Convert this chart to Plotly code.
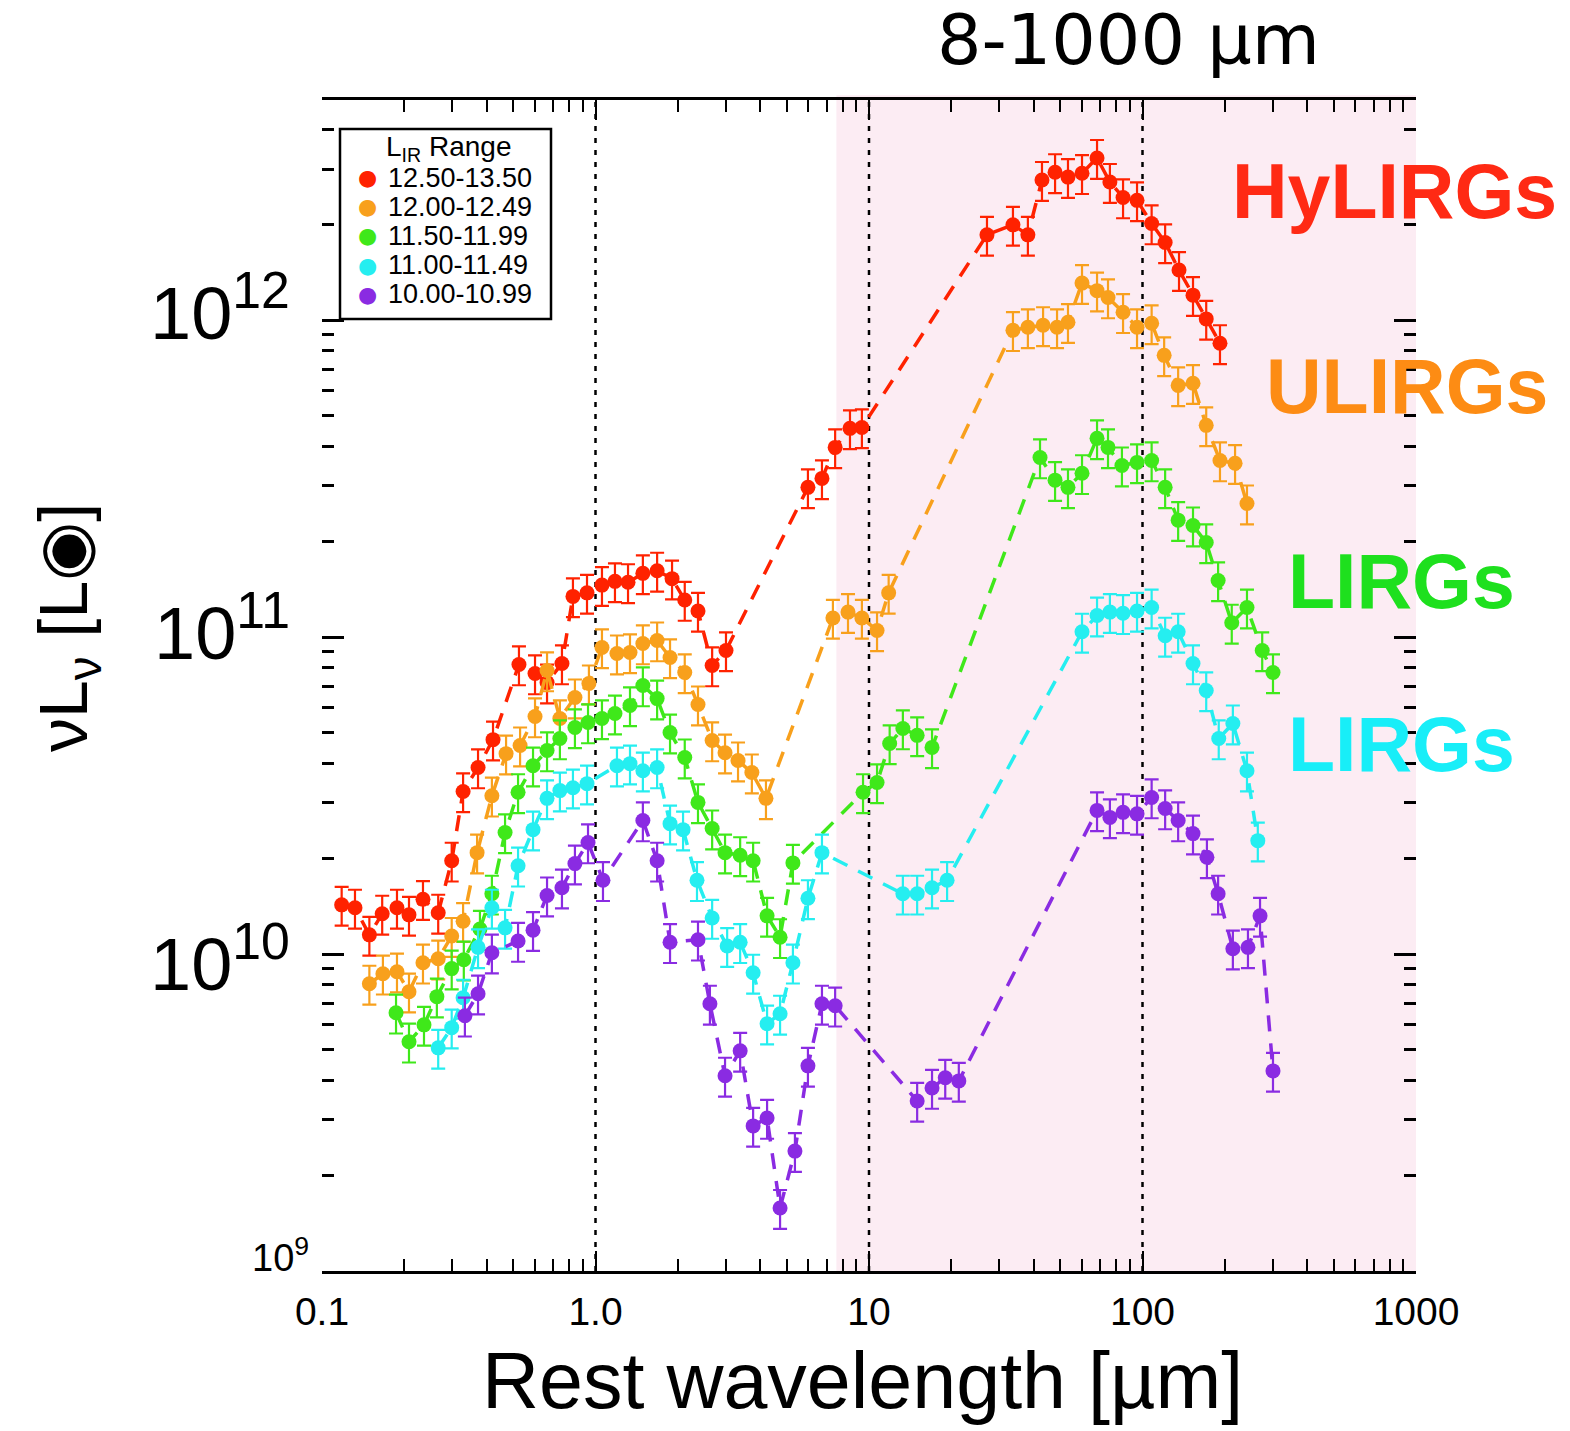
import math
import plotly.graph_objects as go

# ---------------- data ----------------
legend_title = "L<sub>IR</sub> Range"
legend_labels = ["12.50-13.50", "12.00-12.49", "11.50-11.99", "11.00-11.49", "10.00-10.99"]
class_labels = ["HyLIRGs", "ULIRGs", "LIRGs", "LIRGs"]

# rest wavelength [um] and nuL_nu [Lsun]
hylirg_wave = [0.118, 0.132, 0.149, 0.166, 0.188, 0.208, 0.234, 0.266,
               0.298, 0.328, 0.372, 0.422, 0.525, 0.601, 0.665, 0.754,
               0.827, 0.931, 1.056, 1.178, 1.315, 1.49, 1.68, 1.905,
               2.12, 2.37, 2.67, 3.00,
               5.98, 6.73, 7.52, 8.52, 9.42,
               27.0, 33.6, 38.1, 42.9, 47.9, 53.4, 60.1, 68.2, 76.0, 84.9, 95.5,
               108, 121, 136, 153, 171, 192]
hylirg_lum = [1.43e10, 1.40e10, 1.15e10, 1.34e10, 1.40e10, 1.33e10, 1.49e10, 1.35e10,
              1.97e10, 3.26e10, 3.88e10, 4.75e10, 8.20e10, 7.68e10, 7.19e10, 8.26e10,
              1.345e11, 1.38e11, 1.46e11, 1.50e11, 1.49e11, 1.59e11, 1.62e11, 1.53e11,
              1.31e11, 1.21e11, 8.14e10, 9.08e10,
              2.97e11, 3.17e11, 3.97e11, 4.56e11, 4.59e11,
              1.86e12, 2.00e12, 1.86e12, 2.77e12, 2.93e12, 2.83e12, 2.91e12, 3.25e12, 2.73e12, 2.44e12, 2.39e12,
              2.02e12, 1.76e12, 1.44e12, 1.20e12, 1.01e12, 8.46e11]

ulirg_wave = [0.149, 0.167, 0.188, 0.208, 0.234, 0.266, 0.298, 0.328,
              0.369, 0.418, 0.471, 0.530, 0.601, 0.665, 0.741, 0.841, 0.946,
              1.056, 1.198, 1.337, 1.49, 1.68, 1.873, 2.12, 2.37, 2.67, 2.976, 3.32, 3.73, 4.20,
              7.38, 8.38, 9.42, 10.7, 11.8,
              33.6, 38.1, 43.3, 48.7, 53.4, 60.1, 68.2, 74.8, 84.9, 95.5, 108,
              120, 135, 153, 171, 192, 218, 241]
ulirg_lum = [8.06e9, 8.67e9, 8.80e9, 7.61e9, 9.39e9, 9.67e9, 1.14e10, 1.27e10,
             2.09e10, 3.16e10, 4.29e10, 4.55e10, 5.62e10, 7.85e10, 5.54e10, 6.45e10, 7.14e10,
             9.28e10, 8.88e10, 8.95e10, 9.55e10, 9.76e10, 8.63e10, 7.74e10, 6.13e10, 4.72e10, 4.32e10, 4.08e10, 3.74e10, 3.10e10,
             1.15e11, 1.20e11, 1.15e11, 1.05e11, 1.38e11,
             9.30e11, 9.50e11, 9.64e11, 9.50e11, 9.86e11, 1.31e12, 1.24e12, 1.18e12, 1.06e12, 9.50e11, 9.78e11,
             7.75e11, 6.23e11, 6.33e11, 4.66e11, 3.61e11, 3.54e11, 2.64e11]

lirg_hi_wave = [0.1865, 0.208, 0.236, 0.263, 0.298, 0.330, 0.378, 0.418, 0.467, 0.521,
                0.591, 0.665, 0.741, 0.841, 0.939, 1.056, 1.178, 1.337, 1.49, 1.68,
                1.873, 2.12, 2.37, 2.67, 2.976, 3.38, 3.77, 4.24, 4.73, 5.27,
                9.51, 10.7, 11.9, 13.3, 15.0, 17.0,
                42.2, 47.9, 53.4, 60.1, 68.2, 74.8, 84.1, 95.5, 108, 121, 135, 153, 171, 189, 212, 241, 274, 300]
lirg_hi_lum = [6.53e9, 5.29e9, 5.98e9, 7.34e9, 9.00e9, 9.60e9, 1.20e10, 1.55e10, 2.42e10, 3.24e10,
               3.93e10, 4.39e10, 4.79e10, 5.19e10, 5.38e10, 5.54e10, 5.74e10, 6.09e10, 7.04e10, 6.40e10,
               5.00e10, 4.17e10, 3.01e10, 2.49e10, 2.09e10, 2.05e10, 1.97e10, 1.32e10, 1.13e10, 1.94e10,
               3.24e10, 3.48e10, 4.62e10, 5.15e10, 4.90e10, 4.49e10,
               3.69e11, 3.13e11, 2.97e11, 3.29e11, 4.24e11, 3.97e11, 3.48e11, 3.56e11, 3.61e11, 2.97e11,
               2.34e11, 2.25e11, 1.99e11, 1.51e11, 1.11e11, 1.24e11, 9.08e10, 7.74e10]

lirg_lo_wave = [0.266, 0.298, 0.328, 0.372, 0.418, 0.467, 0.521, 0.591, 0.665, 0.741, 0.827, 0.931,
                1.198, 1.337, 1.49, 1.68, 1.873, 2.09, 2.35, 2.67, 3.03, 3.38, 3.77, 4.24, 4.73, 5.27, 5.98, 6.73,
                13.3, 15.0, 17.0, 19.3,
                60.1, 68.2, 76.0, 84.9, 95.5, 108, 121, 135, 153, 171, 190, 214, 241, 264]
lirg_lo_lum = [5.06e9, 5.86e9, 7.28e9, 1.05e10, 1.40e10, 1.21e10, 1.90e10, 2.47e10, 3.10e10, 3.28e10, 3.35e10, 3.45e10,
               3.93e10, 3.99e10, 3.79e10, 3.88e10, 2.58e10, 2.47e10, 1.71e10, 1.30e10, 1.06e10, 1.09e10, 8.73e9,
               6.03e9, 6.48e9, 9.39e9, 1.50e10, 2.09e10,
               1.55e10, 1.55e10, 1.62e10, 1.71e10,
               1.04e11, 1.17e11, 1.20e11, 1.19e11, 1.21e11, 1.24e11, 1.01e11, 1.04e11, 8.26e10, 6.79e10,
               4.79e10, 5.34e10, 3.79e10, 2.28e10]

normal_wave = [0.333, 0.372, 0.418, 0.521, 0.591, 0.665, 0.754, 0.841, 0.939, 1.065,
               1.49, 1.68, 1.873, 2.37, 2.62, 2.976, 3.38, 3.77, 4.24, 4.73, 5.36, 5.98, 6.73, 7.52,
               15.0, 17.0, 19.0, 21.3,
               68.2, 76.0, 84.9, 95.5, 108, 121, 135, 153, 172, 189, 214, 243, 269, 300]
normal_lum = [6.39e9, 7.50e9, 1.01e10, 1.10e10, 1.19e10, 1.53e10, 1.62e10, 1.93e10, 2.25e10, 1.71e10,
              2.64e10, 1.97e10, 1.09e10, 1.11e10, 6.97e9, 4.13e9, 4.95e9, 2.87e9, 3.04e9, 1.58e9,
              2.39e9, 4.44e9, 6.97e9, 6.87e9,
              3.44e9, 3.78e9, 4.07e9, 3.98e9,
              2.84e10, 2.70e10, 2.80e10, 2.77e10, 3.12e10, 2.88e10, 2.64e10, 2.40e10, 2.02e10, 1.55e10,
              1.04e10, 1.05e10, 1.32e10, 4.28e9]

x_tick_vals = [0.1, 1, 10, 100, 1000]
x_tick_text = ["0.1", "1.0", "10", "100", "1000"]
y_tick_vals = [1e9, 1e10, 1e11, 1e12]
y_tick_text = ["10<sup>9</sup>", "10<sup>10</sup>", "10<sup>11</sup>", "10<sup>12</sup>"]
ir_band = [7.6, 1000]          # shaded 8-1000 um region
guide_lines = [1, 10, 100]     # dotted vertical guides

# ---------------- styling ----------------
point_colors = ["#ff2200", "#f8a01c", "#3fe81a", "#25eef0", "#8a2be2"]
label_colors = ["#ff2a14", "#fd8c14", "#1ee01e", "#18eef8"]
FONT = "Liberation Sans, Arial, sans-serif"

series = [(hylirg_wave, hylirg_lum), (ulirg_wave, ulirg_lum), (lirg_hi_wave, lirg_hi_lum),
          (lirg_lo_wave, lirg_lo_lum), (normal_wave, normal_lum)]

fig = go.Figure()

for (w, l), c, name in zip(series, point_colors, legend_labels):
    fig.add_trace(go.Scatter(
        x=w, y=l, mode="lines+markers", name=name, showlegend=False,
        line=dict(color=c, width=3.5, dash="16px,12px"),
        marker=dict(color=c, size=15, symbol="circle"),
        error_y=dict(type="percent", value=14, color=c, thickness=2.2, width=7),
    ))

# plot-area layout helpers (pixel -> paper fractions)
PL, PR, PT, PB = 322, 1416, 100, 1271
def px(x):
    return (x - PL) / (PR - PL)
def py(y):
    return (PB - y) / (PB - PT)

shapes = [dict(type="rect", xref="x", yref="paper",
               x0=ir_band[0], x1=ir_band[1], y0=0, y1=1.004,
               fillcolor="#fcecf3", line=dict(width=0), layer="below")]
for g in guide_lines:
    shapes.append(dict(type="line", xref="x", yref="paper",
                       x0=g, x1=g, y0=0, y1=1,
                       line=dict(color="black", width=2.5, dash="5px,7px"), layer="below"))
# legend box
shapes.append(dict(type="rect", xref="paper", yref="paper",
                   x0=px(340), x1=px(551), y0=py(319), y1=py(129),
                   fillcolor="white", line=dict(color="black", width=2.5)))

minor_x = [m * 10 ** d for d in range(-1, 3) for m in range(2, 10)]
minor_y = [m * 10 ** d for d in range(9, 13) for m in range(2, 10)]

annotations = []
# legend contents
annotations.append(dict(x=px(384), y=py(149), xref="paper", yref="paper", text=legend_title,
                        showarrow=False, xanchor="left", yanchor="middle",
                        font=dict(family=FONT, size=28, color="black")))
legend_rows = [178, 207, 236, 265, 294]
for name, c, ry in zip(legend_labels, point_colors, legend_rows):
    annotations.append(dict(x=px(367), y=py(ry), xref="paper", yref="paper", text="●",
                            showarrow=False, xanchor="center", yanchor="middle",
                            font=dict(family="DejaVu Sans, sans-serif", size=22, color=c)))
    annotations.append(dict(x=px(386), y=py(ry), xref="paper", yref="paper", text=name,
                            showarrow=False, xanchor="left", yanchor="middle",
                            font=dict(family=FONT, size=27, color="black")))

# y tick labels (different sizes as in the reference)
ytick_sizes = [38, 74, 74, 74]
ytick_shift = [16, -5, 9, 12]
ytick_x = [px(311), px(292), px(292), px(292)]
for v, t, s, sh, xx in zip(y_tick_vals, y_tick_text, ytick_sizes, ytick_shift, ytick_x):
    annotations.append(dict(x=xx, xref="paper", y=math.log10(v), yref="y",
                            text=t, showarrow=False, xanchor="right", yanchor="middle",
                            yshift=sh, font=dict(family=FONT, size=s, color="black")))
# class labels on the right
label_pos = [(1394, 191), (1407, 386), (1401, 581), (1401, 744)]
for t, c, (lx, ly) in zip(class_labels, label_colors, label_pos):
    annotations.append(dict(x=px(lx), y=py(ly), xref="paper", yref="paper", text="<b>%s</b>" % t,
                            showarrow=False, xanchor="center", yanchor="middle",
                            font=dict(family=FONT, size=77, color=c)))
# band title
annotations.append(dict(x=px(1128), y=py(40), xref="paper", yref="paper", text="8-1000 µm",
                        showarrow=False, xanchor="center", yanchor="middle",
                        font=dict(family="DejaVu Sans, sans-serif", size=70, color="black")))
# axis titles
annotations.append(dict(x=px(862), y=py(1380), xref="paper", yref="paper", text="Rest wavelength [µm]",
                        showarrow=False, xanchor="center", yanchor="middle",
                        font=dict(family=FONT, size=79, color="black")))
annotations.append(dict(x=px(68), y=py(628), xref="paper", yref="paper", text="νL<sub>ν</sub> [L◉]",
                        textangle=-90, showarrow=False, xanchor="center", yanchor="middle",
                        font=dict(family=FONT, size=68, color="black")))

fig.update_layout(
    width=1570, height=1431,
    margin=dict(l=PL, r=1570 - PR, t=PT, b=1431 - PB),
    paper_bgcolor="white", plot_bgcolor="white",
    shapes=shapes, annotations=annotations,
    showlegend=False,
    xaxis=dict(type="log", range=[-1, 3], showgrid=False, zeroline=False,
               showline=True, linecolor="black", linewidth=3, mirror="ticks",
               ticks="inside", ticklen=20, tickwidth=2, tickcolor="black",
               tickvals=x_tick_vals, ticktext=x_tick_text, ticklabelstandoff=4,
               tickfont=dict(family=FONT, size=39, color="black"),
               minor=dict(tickmode="array", tickvals=minor_x, ticks="inside", ticklen=12,
                          tickwidth=2, tickcolor="black", showgrid=False)),
    yaxis=dict(type="log", range=[9, 12.695], showgrid=False, zeroline=False,
               showline=False, mirror="ticks",
               ticks="inside", ticklen=22, tickwidth=2.5, tickcolor="black",
               tickvals=y_tick_vals, showticklabels=False,
               minor=dict(tickmode="array", tickvals=minor_y, ticks="inside", ticklen=12,
                          tickwidth=2.5, tickcolor="black", showgrid=False)),
)

fig.write_html("out.html")
